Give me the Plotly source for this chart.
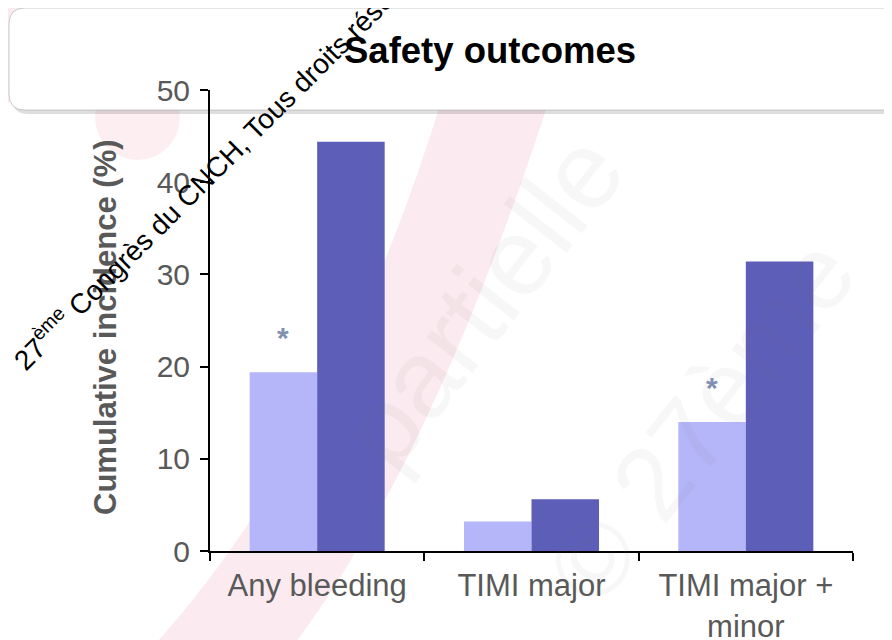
import plotly.graph_objects as go

categories = ["Any bleeding", "TIMI major", "TIMI major +<br>minor"]
light_values = [19.4, 3.2, 14.0]
dark_values = [44.4, 5.6, 31.4]
significant = [True, False, True]
y_ticks = [0, 10, 20, 30, 40, 50]

W, H = 892, 640
OFF = 8  # page body margin
L, T = 202, 82
PW, PH = 643, 461
R, B = W - L - PW, H - T - PH
FONT = "Liberation Sans, Arial"


def px(xs):
    return (xs - OFF - L) / PW


def py(ys):
    return (T + PH + OFF - ys) / PH


def rrect(x0, y0, x1, y1, r):
    return (f"M {px(x0 + r)} {py(y0)} L {px(x1 - r)} {py(y0)} "
            f"Q {px(x1)} {py(y0)} {px(x1)} {py(y0 + r)} "
            f"L {px(x1)} {py(y1 - r)} Q {px(x1)} {py(y1)} {px(x1 - r)} {py(y1)} "
            f"L {px(x0 + r)} {py(y1)} Q {px(x0)} {py(y1)} {px(x0)} {py(y1 - r)} "
            f"L {px(x0)} {py(y0 + r)} Q {px(x0)} {py(y0)} {px(x0 + r)} {py(y0)} Z")


fig = go.Figure()
fig.add_trace(go.Bar(x=categories, y=light_values, marker_color="#b5b5f9",
                     marker_line_width=0, name="A"))
fig.add_trace(go.Bar(x=categories, y=dark_values, marker_color="#5d5eb8",
                     marker_line_width=0, name="B"))

PINK = "rgba(236,160,180,0.22)"
shapes = []
# pink swoosh background
shapes.append(dict(type="path", xref="paper", yref="paper", layer="below",
                   path=(f"M {px(150)} {py(650)} Q {px(360)} {py(420)} {px(470)} {py(0)} "
                         f"L {px(580)} {py(0)} Q {px(450)} {py(440)} {px(290)} {py(650)} Z"),
                   fillcolor=PINK, line_width=0))
shapes.append(dict(type="path", xref="paper", yref="paper", layer="below",
                   path=(f"M {px(0)} {py(0)} L {px(110)} {py(0)} Q {px(60)} {py(60)} {px(0)} {py(110)} Z"),
                   fillcolor=PINK, line_width=0))
shapes.append(dict(type="circle", xref="paper", yref="paper", layer="below",
                   x0=px(95), x1=px(180), y0=py(160), y1=py(75),
                   fillcolor="rgba(236,160,180,0.18)", line_width=0))
shapes.append(dict(type="path", xref="paper", yref="paper", layer="below",
                   path=(f"M {px(780)} {py(0)} L {px(870)} {py(0)} Q {px(840)} {py(40)} {px(800)} {py(60)} Z"),
                   fillcolor=PINK, line_width=0))
# title box shadow + box
shapes.append(dict(type="path", xref="paper", yref="paper", layer="below",
                   path=rrect(12, 12, 920, 114, 16),
                   fillcolor="rgba(0,0,0,0.13)", line_width=0))
shapes.append(dict(type="path", xref="paper", yref="paper", layer="below",
                   path=rrect(9, 8, 916, 110, 16),
                   fillcolor="white", line=dict(color="rgba(170,170,170,0.6)", width=1)))

annotations = []
# faint big watermark
annotations.append(dict(xref="paper", yref="paper", x=px(480), y=py(300),
                        xanchor="center", yanchor="middle",
                        text="partielle", showarrow=False, textangle=-52,
                        font=dict(family=FONT, size=110, color="rgba(120,120,120,0.06)")))
annotations.append(dict(xref="paper", yref="paper", x=px(700), y=py(420),
                        xanchor="center", yanchor="middle",
                        text="© 27ème", showarrow=False, textangle=-52,
                        font=dict(family=FONT, size=105, color="rgba(120,120,120,0.06)")))
# title
annotations.append(dict(xref="paper", yref="paper", x=px(490), y=py(51),
                        xanchor="center", yanchor="middle",
                        text="<b>Safety outcomes</b>", showarrow=False,
                        font=dict(family=FONT, size=36.5, color="black")))
# y-axis title
annotations.append(dict(xref="paper", yref="paper", x=px(105), y=py(327),
                        xanchor="center", yanchor="middle",
                        text="<b>Cumulative incidence (%)</b>", showarrow=False, textangle=-90,
                        font=dict(family=FONT, size=31, color="#595959")))
# asterisks
for cat, val, sig in zip(categories, light_values, significant):
    if sig:
        annotations.append(dict(x=cat, y=val, xref="x", yref="y", text="<b>*</b>",
                                xanchor="center", yanchor="bottom",
                                showarrow=False, xshift=-34, yshift=16,
                                font=dict(family=FONT, size=30, color="#7f90b2")))
# diagonal copyright watermark
annotations.append(dict(xref="paper", yref="paper", x=px(221), y=py(160),
                        xanchor="center", yanchor="middle",
                        text="27<sup>ème</sup> Congrès du CNCH, Tous droits réservés",
                        showarrow=False, textangle=-45,
                        font=dict(family=FONT, size=28, color="black")))

fig.update_layout(
    width=W, height=H,
    margin=dict(l=L, r=R, t=T, b=B, autoexpand=False),
    paper_bgcolor="white", plot_bgcolor="rgba(0,0,0,0)",
    barmode="group", bargap=0.37, bargroupgap=0,
    showlegend=False,
    shapes=shapes, annotations=annotations,
    font=dict(family=FONT, color="#595959"),
)
fig.update_xaxes(showline=True, linecolor="black", linewidth=2, ticks="outside",
                 tickson="boundaries", ticklen=8, tickwidth=2, tickcolor="black",
                 tickfont=dict(size=31, color="#595959"), showgrid=False, zeroline=False,
                 ticklabelstandoff=6, automargin=False)
fig.update_yaxes(range=[0, 50], tickvals=y_ticks, showline=True, linecolor="black",
                 linewidth=2, ticks="outside", ticklen=8, tickwidth=2, tickcolor="black",
                 tickfont=dict(size=30, color="#595959"), showgrid=False, zeroline=False,
                 ticklabelstandoff=4, automargin=False)

fig.write_html("out.html")
